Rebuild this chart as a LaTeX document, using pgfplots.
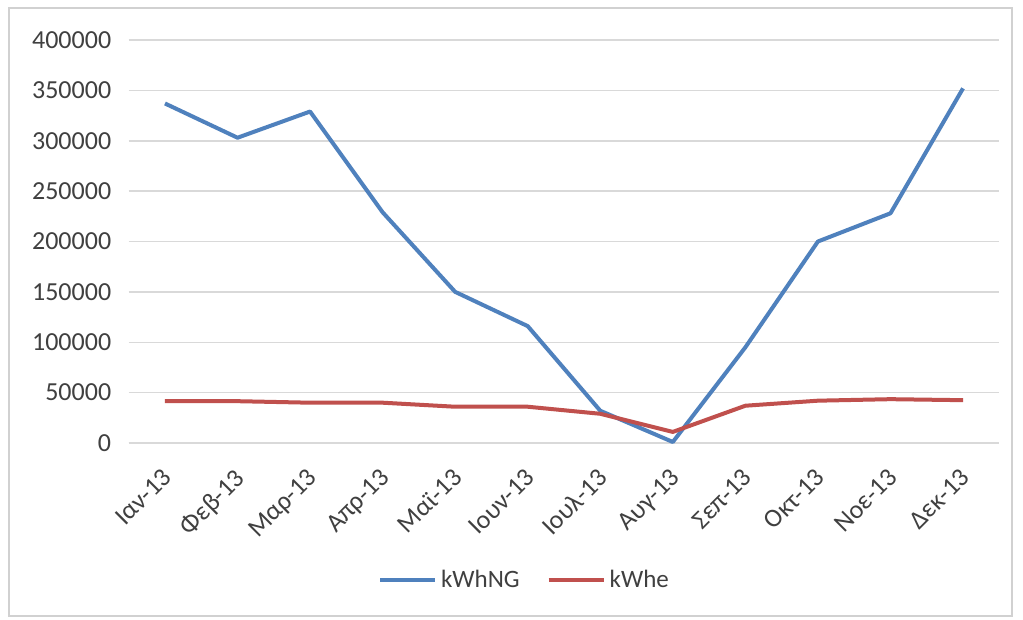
\documentclass[border=0pt]{standalone}
\usepackage{pgfplots}
\pgfplotsset{compat=1.18}
\usepackage{fontspec}
\setmainfont{Carlito}

\definecolor{ngblue}{HTML}{4F81BD}
\definecolor{elred}{HTML}{C0504D}
\definecolor{txtgray}{HTML}{404040}
\definecolor{gridgray}{HTML}{D9D9D9}

\begin{document}
\begin{tikzpicture}
\useasboundingbox (0,0) rectangle (1023pt,619pt);
\fill[white] (0,0) rectangle (1023pt,619pt);
\draw[line width=1.5pt, color=black!18] (9pt,3pt) rectangle (1012pt,611pt);
\begin{axis}[
  at={(128.7pt,176pt)}, anchor=south west,
  scale only axis,
  width=870.6pt, height=403pt,
  xmin=-0.5, xmax=11.5,
  ymin=0, ymax=400000,
  ytick={0,50000,...,400000},
  xtick={0,...,11},
  xticklabels={Ιαν-13,Φεβ-13,Μαρ-13,Απρ-13,Μαϊ-13,Ιουν-13,Ιουλ-13,Αυγ-13,Σεπ-13,Οκτ-13,Νοε-13,Δεκ-13},
  scaled y ticks=false,
  /pgf/number format/.cd, fixed, 1000 sep={}, assume math mode=true,
  /pgfplots/.cd,
  axis line style={draw=none},
  axis x line*=bottom,
  ymajorgrids,
  grid style={line width=1.5pt, color=gridgray},
  major tick length=0pt,
  tick label style={font=\fontsize{26}{31}\selectfont, text=txtgray},
  yticklabel style={anchor=east, xshift=-14pt},
  xticklabel style={anchor=north east, xshift=-4pt, yshift=-19pt, rotate=45},
  legend style={at={(0.454,-0.34)}, anchor=center, draw=none,
    font=\fontsize{25}{30}\selectfont, text=txtgray,
    nodes={inner xsep=1pt},
    legend columns=2, column sep=3pt,
    /tikz/every even column/.append style={column sep=26pt}},
  legend image code/.code={\draw[#1] (0pt,0pt) -- (55pt,0pt);},
  every axis plot/.append style={line width=4pt, line join=round, mark=none},
]
% gridline along the category axis
\draw[line width=1.5pt, color=gridgray] (rel axis cs:0,0) -- (rel axis cs:1,0);
\addplot[color=ngblue] coordinates {
  (0,337000) (1,303000) (2,329000) (3,229000) (4,150000) (5,116000)
  (6,32000) (7,1000) (8,95000) (9,200000) (10,228000) (11,352000)};
\addlegendentry{kWhNG}
\addplot[color=elred] coordinates {
  (0,41500) (1,41500) (2,40000) (3,40000) (4,36000) (5,36000)
  (6,29000) (7,11000) (8,37000) (9,42000) (10,43500) (11,42500)};
\addlegendentry{kWhe}
\end{axis}
\end{tikzpicture}
\end{document}
